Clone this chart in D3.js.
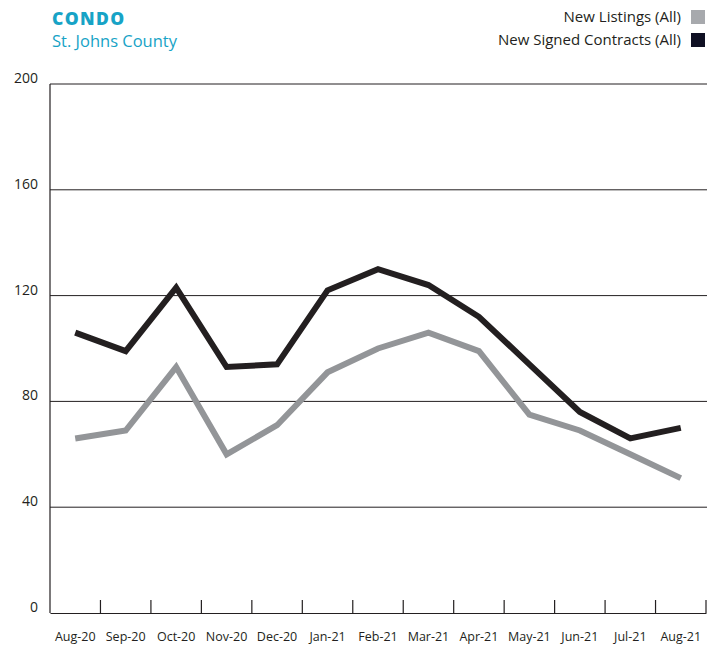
<!DOCTYPE html>
<html><head><meta charset="utf-8">
<script src="https://cdn.jsdelivr.net/npm/d3@7"></script>
<style>body{margin:0;background:#fff;} svg{display:block;font-family:"Open Sans", sans-serif;}</style>
</head><body>
<svg id="chart" width="717" height="645"></svg>
<script>
const months = ["Aug-20","Sep-20","Oct-20","Nov-20","Dec-20","Jan-21","Feb-21","Mar-21","Apr-21","May-21","Jun-21","Jul-21","Aug-21"];
const newListings = [66,69,93,60,71,91,100,106,99,75,69,60,51];
const newSignedContracts = [106,99,123,93,94,122,130,124,112,94,76,66,70];
const yTicks = [0,40,80,120,160,200];
const seriesNames = ["New Listings (All)","New Signed Contracts (All)"];

(function(){
const svg = d3.select("#chart");
const mL = 50, mR = 706, mT = 84, mB = 613;
const x = d3.scaleBand().domain(months).range([mL, mR]);
const y = d3.scaleLinear().domain([0,200]).range([mB, mT]);

// gridlines
svg.append("g").selectAll("line").data(yTicks.filter(d=>d>0)).join("line")
  .attr("x1", mL).attr("x2", mR+1).attr("y1", d=>y(d)).attr("y2", d=>y(d))
  .attr("stroke","#231f20").attr("stroke-width",1);

// y labels
svg.append("g").selectAll("text").data(yTicks).join("text")
  .attr("x", 38).attr("y", d=>y(d)-1).attr("text-anchor","end")
  .attr("font-size",14).attr("fill","#231f20").text(d=>d);

// left axis line
svg.append("line").attr("x1",mL).attr("x2",mL).attr("y1",mT).attr("y2",mB)
  .attr("stroke","#231f20").attr("stroke-width",1.2);
// bottom axis
const xAxis = d3.axisBottom(x).tickSize(0).tickSizeOuter(0);
const gx = svg.append("g").attr("transform",`translate(0,${mB})`).call(xAxis);
gx.select(".domain").attr("stroke","#231f20").attr("stroke-width",1.2);
gx.selectAll("text").attr("font-size",12.5).attr("fill","#231f20").attr("dy",null).attr("y",28)
  .style("font-family","'Open Sans', sans-serif");
// ticks at band boundaries
svg.append("g").selectAll("line").data(months).join("line")
  .attr("x1", d=>x(d)+x.bandwidth()).attr("x2", d=>x(d)+x.bandwidth())
  .attr("y1", mB-13).attr("y2", mB)
  .attr("stroke","#231f20").attr("stroke-width",1.2);

const line = d3.line().x((d,i)=>x(months[i])+x.bandwidth()/2).y(d=>y(d));
svg.append("path").datum(newListings).attr("d", line).attr("fill","none")
  .attr("stroke","#939598").attr("stroke-width",6);
svg.append("path").datum(newSignedContracts).attr("d", line).attr("fill","none")
  .attr("stroke","#231f20").attr("stroke-width",6);

// title
svg.append("text").attr("x",52).attr("y",25).attr("font-size",17.5).attr("font-weight",800)
  .attr("letter-spacing",1.4).attr("fill","#17a3c6").text("CONDO");
svg.append("text").attr("x",52).attr("y",47).attr("font-size",16.5)
  .attr("fill","#17a3c6").text("St. Johns County");

// legend
const legColors = ["#a7a9ad","#0f1023"];
const leg = svg.append("g").selectAll("g").data(seriesNames).join("g")
  .attr("transform",(d,i)=>`translate(0,${17+i*23})`);
leg.append("text").attr("x",681).attr("y",5).attr("text-anchor","end")
  .attr("font-size",15).attr("fill","#231f20").text(d=>d);
leg.append("rect").attr("x",691).attr("y",-7).attr("width",14).attr("height",14)
  .attr("fill",(d,i)=>legColors[i]);
})();
</script>
</body></html>
